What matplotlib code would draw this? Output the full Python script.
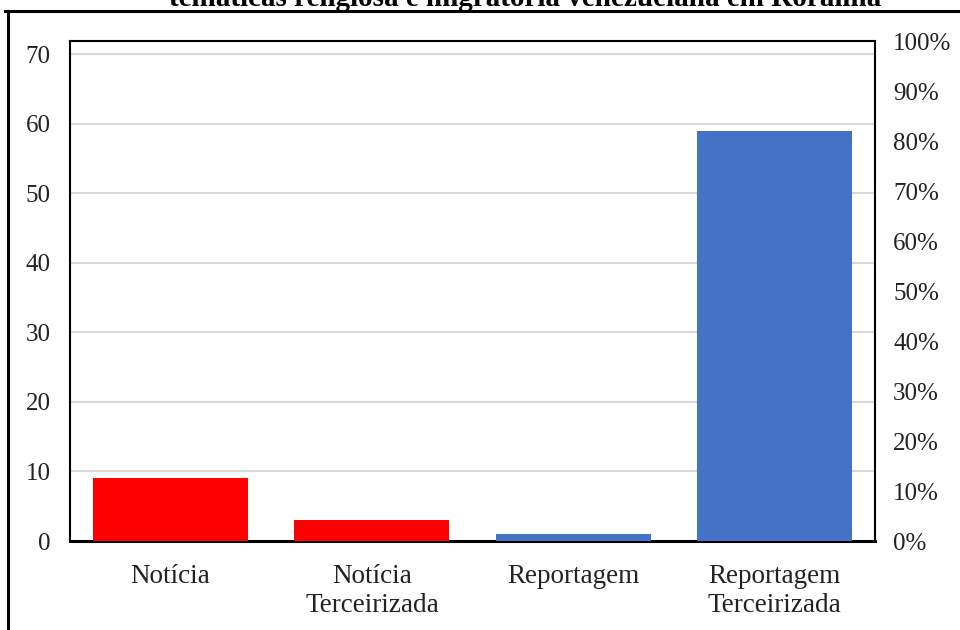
import matplotlib
matplotlib.use("Agg")
import matplotlib.pyplot as plt
from matplotlib.lines import Line2D
from matplotlib.ticker import FuncFormatter

categories = ["Notícia", "Notícia\nTerceirizada", "Reportagem", "Reportagem\nTerceirizada"]
values = [9, 3, 1, 59]
colors = ["#FF0000", "#FF0000", "#4472C4", "#4472C4"]
left_ticks = [0, 10, 20, 30, 40, 50, 60, 70]
right_ticks = [0, 10, 20, 30, 40, 50, 60, 70, 80, 90, 100]
title = "temáticas religiosa e migratória venezuelana em Roraima"

plt.rcParams['font.family'] = ['Liberation Serif', 'DejaVu Serif']

fig = plt.figure(figsize=(9.6, 6.3), dpi=100)
W, H = 960, 630
x0, x1, y0, y1 = 70, 875, 41, 541
ax = fig.add_axes([x0 / W, 1 - y1 / H, (x1 - x0) / W, (y1 - y0) / H])

x = range(len(categories))
ax.bar(x, values, width=0.77, color=colors, zorder=3)
ax.set_xlim(-0.5, len(categories) - 0.5)
ax.set_ylim(0, 71.9)
ax.set_yticks(left_ticks)
ax.set_yticklabels([str(t) for t in left_ticks])
ax.yaxis.grid(True, color="#D9D9D9", linewidth=1.5, zorder=0)
ax.set_xticks(list(x))
ax.set_xticklabels(categories, fontsize=19.5, color="#222222", linespacing=1.2)
ax.tick_params(axis="x", length=0, pad=16.5)
ax.tick_params(axis="y", length=0, pad=14, labelsize=18, labelcolor="#222222")
for s in ["left", "top", "right"]:
    ax.spines[s].set_linewidth(1.5)
    ax.spines[s].set_color("black")
ax.spines["bottom"].set_linewidth(2.2)

ax2 = ax.twinx()
ax2.set_ylim(0, 100)
ax2.set_yticks(right_ticks)
ax2.yaxis.set_major_formatter(FuncFormatter(lambda v, p: f"{int(v)}%"))
ax2.tick_params(axis="y", length=0, pad=13, labelsize=18, labelcolor="#222222")
for s in ax2.spines.values():
    s.set_visible(False)

# outer frame
fig.add_artist(Line2D([5 / W, 1.0], [1 - 11 / H, 1 - 11 / H], color="black", linewidth=2.2, transform=fig.transFigure))
fig.add_artist(Line2D([8 / W, 8 / W], [1 - 11 / H, 0], color="black", linewidth=2.2, transform=fig.transFigure))

fig.text(525 / W, 1 - 6 / H, title, ha="center", va="baseline", fontsize=21, fontweight="bold")

fig.savefig("out.png", dpi=100)
